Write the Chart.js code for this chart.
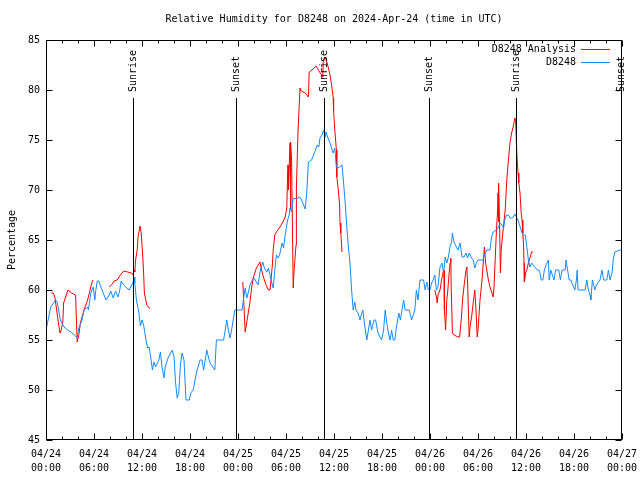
<!DOCTYPE html>
<html>
<head>
<meta charset="utf-8">
<title>Relative Humidity D8248</title>
<script src="https://cdn.jsdelivr.net/npm/chart.js@4.4.1/dist/chart.umd.min.js"></script>
<style>
	html, body { margin: 0; padding: 0; background: #fff; }
	#wrap { width: 640px; height: 480px; }
</style>
</head>
<body>
<div id="wrap"><canvas id="rhChart" width="640" height="480"></canvas></div>
<script>
// hours since 04/24 00:00 UTC
var dayLabels = ['04/24', '04/25', '04/26', '04/27'];

// D8248 observations
var obsHours = [
	0.0, 0.6, 1.2, 1.4, 1.8, 2.25, 2.7, 3.1, 3.7, 3.9, 4.1, 4.5, 4.75, 5.2, 5.3, 5.6, 5.9, 6.1, 6.2, 6.4,
	6.6, 6.9, 7.5, 7.9, 8.1, 8.4, 8.7, 9.0, 9.2, 9.4, 9.7, 10.1, 10.4, 10.6, 10.9, 11.0, 11.1, 11.3, 11.6, 11.8,
	12.0, 12.2, 12.5, 12.7, 12.9, 13.1, 13.3, 13.5, 13.7, 14.1, 14.3, 14.5, 14.75, 14.9, 15.3, 15.8, 16.0, 16.2, 16.4, 16.6,
	16.8, 17.0, 17.25, 17.5, 17.9, 18.1, 18.4, 18.8, 19.25, 19.5, 19.7, 20.1, 20.3, 20.5, 21.1, 21.3, 22.2, 22.6, 22.8, 23.0,
	23.2, 23.6, 24.5, 24.7, 24.9, 25.1, 25.3, 25.5, 25.8, 26.0, 26.3, 26.5, 26.8, 27.1, 27.3, 27.6, 27.8, 28.0, 28.2, 28.4,
	28.6, 28.8, 29.0, 29.2, 29.5, 29.7, 29.9, 30.2, 30.4, 30.5, 30.7, 30.9, 31.3, 31.7, 31.9, 32.1, 32.4, 32.6, 32.8, 33.0,
	33.2, 33.6, 33.9, 34.1, 34.25, 34.5, 34.7, 34.9, 35.0, 35.2, 35.5, 35.7, 35.9, 36.1, 36.3, 36.7, 37.0, 37.2, 37.4, 37.6,
	37.8, 38.0, 38.2, 38.4, 38.6, 38.75, 39.0, 39.25, 39.4, 39.6, 39.8, 40.1, 40.3, 40.5, 40.7, 40.9, 41.0, 41.2, 41.5, 41.95,
	42.2, 42.4, 42.6, 42.8, 43.0, 43.2, 43.4, 43.6, 43.8, 44.1, 44.3, 44.5, 44.7, 44.9, 45.4, 45.7, 46.1, 46.3, 46.5, 46.75,
	47.2, 47.4, 47.6, 47.8, 48.0, 48.2, 48.4, 48.6, 48.8, 49.0, 49.25, 49.5, 49.7, 49.9, 50.1, 50.3, 50.5, 50.7, 50.8, 51.0,
	51.3, 51.5, 51.75, 52.0, 52.25, 52.5, 52.7, 52.9, 53.2, 53.4, 53.6, 53.8, 54.0, 54.6, 54.9, 55.1, 55.5, 55.7, 55.9, 56.3,
	56.5, 56.75, 57.0, 57.2, 57.4, 57.6, 57.8, 58.0, 58.2, 58.4, 58.6, 58.8, 59.0, 59.2, 59.5, 59.7, 59.9, 60.1, 60.3, 60.5,
	60.7, 60.9, 61.4, 61.6, 61.75, 61.9, 62.1, 62.3, 62.5, 62.8, 62.9, 63.1, 63.3, 63.5, 63.7, 64.1, 64.3, 64.5, 64.9, 65.0,
	65.2, 65.4, 65.6, 66.1, 66.3, 66.4, 66.5, 67.4, 67.6, 67.8, 68.0, 68.1, 68.3, 68.6, 68.8, 69.25, 69.5, 69.7, 70.1, 70.3,
	70.5, 70.75, 70.9, 71.1, 71.75, 72.0
];
var obsValues = [
	56, 58.3, 59, 58.8, 57, 56.3, 56, 55.8, 55.4, 55.2, 56.2, 57, 58, 58.3, 58, 59.7, 60.3, 59, 59.8, 60.9,
	60.9, 60.2, 59, 59.5, 59.9, 59.2, 59.9, 59.3, 59.9, 60.9, 60.5, 60.2, 60, 60.3, 60.8, 61.3, 60.7, 59, 57.8, 56.4,
	57, 56.5, 55, 54.2, 54.3, 53.2, 52, 52.8, 52.3, 53, 53.8, 52.3, 51.2, 52.3, 53.3, 54, 53.3, 50.7, 49.2, 49.7,
	52.5, 53.7, 53, 49, 49, 49.7, 50, 51.7, 53, 53, 52, 54, 53.3, 52.7, 52, 55, 55, 57, 56, 55.2,
	56, 58, 58, 59.2, 60.2, 59.2, 59.8, 60.5, 61, 61.2, 60.8, 60.5, 62, 62.8, 62.2, 61.8, 62.2, 61.5, 60.8, 60.2,
	62, 63.5, 63.2, 63.5, 64.7, 64.2, 65.5, 67, 67.5, 68.2, 67.8, 69.2, 69.1, 69.3, 69.1, 68.7, 68.1, 69.8, 72.8, 72.9,
	73, 73.8, 74.5, 74.3, 75.2, 75.5, 76, 75.3, 75.8, 75.3, 74.7, 74.2, 73.7, 74.2, 72.2, 72.3, 72.5, 70.7, 68.7, 66.3,
	64.3, 62.7, 60, 58, 58.8, 58, 57.7, 57, 57.5, 58, 56.7, 55, 56, 57, 56, 56.7, 57, 57, 55.7, 55,
	56, 58, 56.7, 55.7, 55, 56, 55, 55, 56.3, 57.7, 57, 58, 59, 58, 58, 57, 58, 60, 59, 61,
	61, 60, 60.8, 60, 60, 60.7, 61, 61.5, 60, 60.3, 62.3, 62.7, 61.7, 63.3, 62.7, 63.3, 64.3, 64.8, 65.7, 64.8,
	64.3, 64, 64.7, 63.3, 63.3, 63.7, 63.2, 63.7, 63.2, 63, 62.2, 62.7, 63, 63, 63.7, 64, 64, 65.3, 65.8, 66,
	66.2, 66.7, 66.5, 66.2, 67.2, 67.5, 67.5, 67.2, 67.2, 67.3, 67.6, 67.3, 67, 66.5, 65.7, 65.5, 65.5, 64.3, 63, 62.3,
	62.7, 62.5, 62, 62, 61.7, 61, 61, 62, 62.5, 63, 61, 62, 61.5, 61, 62, 62, 61, 62, 62, 63,
	62, 61, 61, 60, 61, 62, 60, 60, 61, 60, 59.5, 59, 61, 60, 60.5, 61, 62, 61, 61, 62,
	61, 61.7, 63, 63.8, 64, 64
];

// D8248 Analysis (null = no analysis, line breaks)
var anaHours = [
	0.66, 0.9, 1.1, 1.3, 1.5, 1.75, 1.9, 2.1, 2.2, 2.75, 3.2, 3.7, 3.8, 3.9, 4.1, 4.3, 4.75, 5.2, 5.6, 5.8, 5.9,
	6.5,
	7.9, 8.3, 8.5, 8.9, 9.3, 9.7, 10.2, 10.7, 10.9, 11.0, 11.1, 11.2, 11.4, 11.5, 11.75, 11.9, 12.1, 12.2, 12.3, 12.6, 12.9, 13.0,
	18.0,
	24.6, 24.9, 25.1, 25.3, 25.5, 25.7, 25.9, 26.3, 26.75, 26.9, 27.1, 27.5, 27.8, 28.0, 28.3, 28.4, 28.6, 28.8, 29.25, 29.6,
	29.9, 30.1, 30.2, 30.25, 30.3, 30.5, 30.55, 30.6, 30.7, 30.9, 31.0, 31.25, 31.3, 31.5, 31.75, 31.9, 32.4, 32.6, 32.8, 32.9,
	33.4, 33.75, 34.2, 34.6, 34.65, 34.9, 35.1, 35.3, 35.5, 35.7, 35.9, 35.95, 36.1, 36.3, 36.35, 36.5, 36.7, 36.75, 36.85, 37.0,
	42.0,
	48.6, 48.8, 48.9, 49.0, 49.25, 49.5, 49.6, 49.75, 49.8, 49.95, 50.1, 50.2, 50.35, 50.5, 50.6, 50.65, 50.8, 51.0, 51.5, 51.7,
	51.9, 52.1, 52.3, 52.5, 52.6, 52.7, 52.9, 53.0, 53.2, 53.4, 53.6, 53.75, 53.9, 54.0, 54.25, 54.5, 54.7, 54.8, 54.95, 55.1,
	55.3, 55.5, 55.7, 55.9, 56.0, 56.2, 56.3, 56.45, 56.5, 56.55, 56.6, 56.7, 56.8, 56.9, 57.1, 57.4, 57.6, 57.8, 58.0, 58.2,
	58.4, 58.6, 58.7, 58.85, 59.0, 59.1, 59.25, 59.4, 59.5, 59.6, 59.7, 59.75, 59.8, 59.95, 60.1, 60.3, 60.6, 60.7, 60.9
];
var anaValues = [
	59.7, 59.7, 59.3, 58.2, 57, 55.7, 56, 56.8, 58.7, 60, 59.7, 59.5, 57, 54.8, 55.5, 56.7, 58, 59, 60.3, 60.9, 61,
	null,
	60.3, 60.6, 60.9, 61, 61.5, 61.9, 61.8, 61.7, 61.5, 62, 61.8, 63, 64, 65.3, 66.4, 65.7, 63.3, 61.7, 59.7, 58.5, 58.2, 58.2,
	null,
	60.8, 55.8, 56.8, 57.8, 58.8, 60.2, 61.2, 62.2, 62.8, 62.2, 61.5, 60.5, 60, 60, 62.5, 64, 65.5, 65.8, 66.3, 66.8,
	67.3, 68.2, 71.5, 72.5, 70, 74.7, 68, 74.8, 73, 60.2, 61.8, 64.5, 70.2, 75.8, 80.2, 79.9, 79.7, 79.5, 79.3, 81.8,
	82.1, 82.4, 81.8, 81.3, 82.8, 83.3, 82.8, 82.2, 81.5, 80.5, 79.2, 77.9, 76, 74, 71.3, 70.3, 68.5, 66.7, 65.7, 63.8,
	null,
	60, 59.3, 58.7, 59.5, 60, 61.3, 61.7, 62, 58, 56, 59, 59.7, 61.3, 62.7, 63.2, 60.3, 55.7, 55.5, 55.3, 55.3,
	57, 59.3, 60.7, 62, 62.3, 60.7, 55.3, 56.3, 57.3, 58.7, 60, 58, 55.3, 56, 59, 61, 63.2, 64.3, 62.7, 62,
	61, 60.3, 59.8, 59.3, 60.3, 64, 65.8, 68, 69.7, 66.8, 70.7, 66.5, 61.7, 64, 65.7, 68, 71, 73, 74.7, 75.7,
	76.3, 77.2, 77, 73.7, 71.7, 70.7, 69.7, 67.7, 67, 65.7, 64.3, 62.7, 60.8, 61.7, 62, 62.7, 63.5, 63.8, 63.8
];

// sunrise / sunset markers
var sunHours = [10.875, 23.75, 34.75, 47.875, 58.75, 71.875];
var sunLabels = ['Sunrise', 'Sunset', 'Sunrise', 'Sunset', 'Sunrise', 'Sunset'];

var FONT = "'DejaVu Sans Mono', 'Liberation Mono', monospace";
var RED = 'rgb(255, 0, 0)';
var BLUE = 'rgb(20, 138, 255)';

function toPoints(xs, ys) {
	var pts = new Array();
	xs.forEach(function(x, i) {
		pts.push({ x: x, y: ys[i] });
	});
	return pts;
}

// gnuplot look: frame, inward ticks, sun lines, key
var gnuplotFrame = {
	id: 'gnuplotFrame',
	beforeDraw: function(chart) {
		var ctx = chart.ctx;
		ctx.save();
		ctx.fillStyle = '#fff';
		ctx.fillRect(0, 0, chart.width, chart.height);
		ctx.restore();
	},
	afterDatasetsDraw: function(chart) {
		var ctx = chart.ctx;
		var a = chart.chartArea;
		var xs = chart.scales.x;
		var ys = chart.scales.y;
		var l = Math.round(a.left) + 0.5, r = Math.round(a.right) - 0.5;
		var t = Math.round(a.top) + 0.5, b = Math.round(a.bottom) - 0.5;

		ctx.save();
		ctx.strokeStyle = '#000';
		ctx.lineWidth = 1;
		ctx.beginPath();
		// x ticks every 2 hours, longer every 6
		for (var h = 0; h <= 72; h += 2) {
			var px = Math.round(xs.getPixelForValue(h)) + 0.5;
			var len = (h % 6 == 0) ? 6 : 3;
			ctx.moveTo(px, b); ctx.lineTo(px, b - len);
			ctx.moveTo(px, t); ctx.lineTo(px, t + len);
		}
		for (var v = 45; v <= 85; v += 5) {
			var py = Math.round(ys.getPixelForValue(v)) + 0.5;
			ctx.moveTo(l, py); ctx.lineTo(l + 6, py);
			ctx.moveTo(r, py); ctx.lineTo(r - 6, py);
		}
		ctx.stroke();

		// sunrise / sunset
		ctx.font = '10px ' + FONT;
		ctx.fillStyle = '#000';
		sunHours.forEach(function(sh, i) {
			var sx = Math.round(xs.getPixelForValue(sh)) + 0.5;
			ctx.beginPath();
			ctx.moveTo(sx, 98);
			ctx.lineTo(sx, b);
			ctx.stroke();
			ctx.save();
			ctx.translate(sx, 92);
			ctx.rotate(-Math.PI / 2);
			ctx.textAlign = 'left';
			ctx.textBaseline = 'middle';
			ctx.fillText(sunLabels[i], 0, 0);
			ctx.restore();
		});

		ctx.strokeRect(l, t, r - l, b - t);

		// key
		var keyItems = [
			{ text: 'D8248 Analysis', color: RED, y: 49.5 },
			{ text: 'D8248', color: BLUE, y: 62.5 }
		];
		keyItems.forEach(function(k) {
			ctx.textAlign = 'right';
			ctx.textBaseline = 'middle';
			ctx.fillStyle = '#000';
			ctx.fillText(k.text, 576, k.y);
			ctx.strokeStyle = k.color;
			ctx.beginPath();
			ctx.moveTo(581, k.y);
			ctx.lineTo(610, k.y);
			ctx.stroke();
		});
		ctx.restore();
	}
};

var rhConfig = {
	type: 'line',
	data: {
		datasets: [
			{
				label: 'D8248 Analysis',
				data: toPoints(anaHours, anaValues),
				borderColor: RED,
				backgroundColor: RED,
				borderWidth: 1,
				pointRadius: 0,
				tension: 0,
				spanGaps: false,
				order: 2
			},
			{
				label: 'D8248',
				data: toPoints(obsHours, obsValues),
				borderColor: BLUE,
				backgroundColor: BLUE,
				borderWidth: 1,
				pointRadius: 0,
				tension: 0,
				order: 1
			}
		]
	},
	options: {
		responsive: false,
		animation: false,
		devicePixelRatio: 1,
		layout: {
			padding: { left: 0, right: 18, top: 0, bottom: 0 }
		},
		plugins: {
			legend: { display: false },
			tooltip: { enabled: false },
			title: {
				display: true,
				fullSize: false,
				text: 'Relative Humidity for D8248 on 2024-Apr-24 (time in UTC)',
				color: '#000',
				font: { family: FONT, size: 10, weight: 'normal', lineHeight: 1.2 },
				padding: { top: 13, bottom: 15 }
			}
		},
		scales: {
			x: {
				type: 'linear',
				min: 0,
				max: 72,
				grid: { display: false, drawTicks: false },
				border: { display: false },
				afterFit: function(scale) {
					scale.height = 40;
					// let the layout padding decide the right edge
					scale.paddingLeft = 0;
					scale.paddingRight = 0;
				},
				ticks: {
					stepSize: 6,
					autoSkip: false,
					maxRotation: 0,
					padding: 7,
					color: '#000',
					font: { family: FONT, size: 10, lineHeight: 1.4 },
					callback: function(value) {
						var day = dayLabels[Math.floor(value / 24)];
						var hh = value % 24;
						return [day, (hh < 10 ? '0' : '') + hh + ':00'];
					}
				}
			},
			y: {
				min: 45,
				max: 85,
				grid: { display: false, drawTicks: false },
				border: { display: false },
				afterFit: function(scale) { scale.width = 46; },
				title: {
					display: true,
					text: 'Percentage',
					color: '#000',
					font: { family: FONT, size: 10, lineHeight: 1.2 },
					padding: { top: 6, bottom: 0 }
				},
				ticks: {
					stepSize: 5,
					padding: 6,
					color: '#000',
					font: { family: FONT, size: 10 }
				}
			}
		}
	},
	plugins: [gnuplotFrame]
};

var rhChart = new Chart(document.getElementById('rhChart'), rhConfig);
</script>
</body>
</html>
